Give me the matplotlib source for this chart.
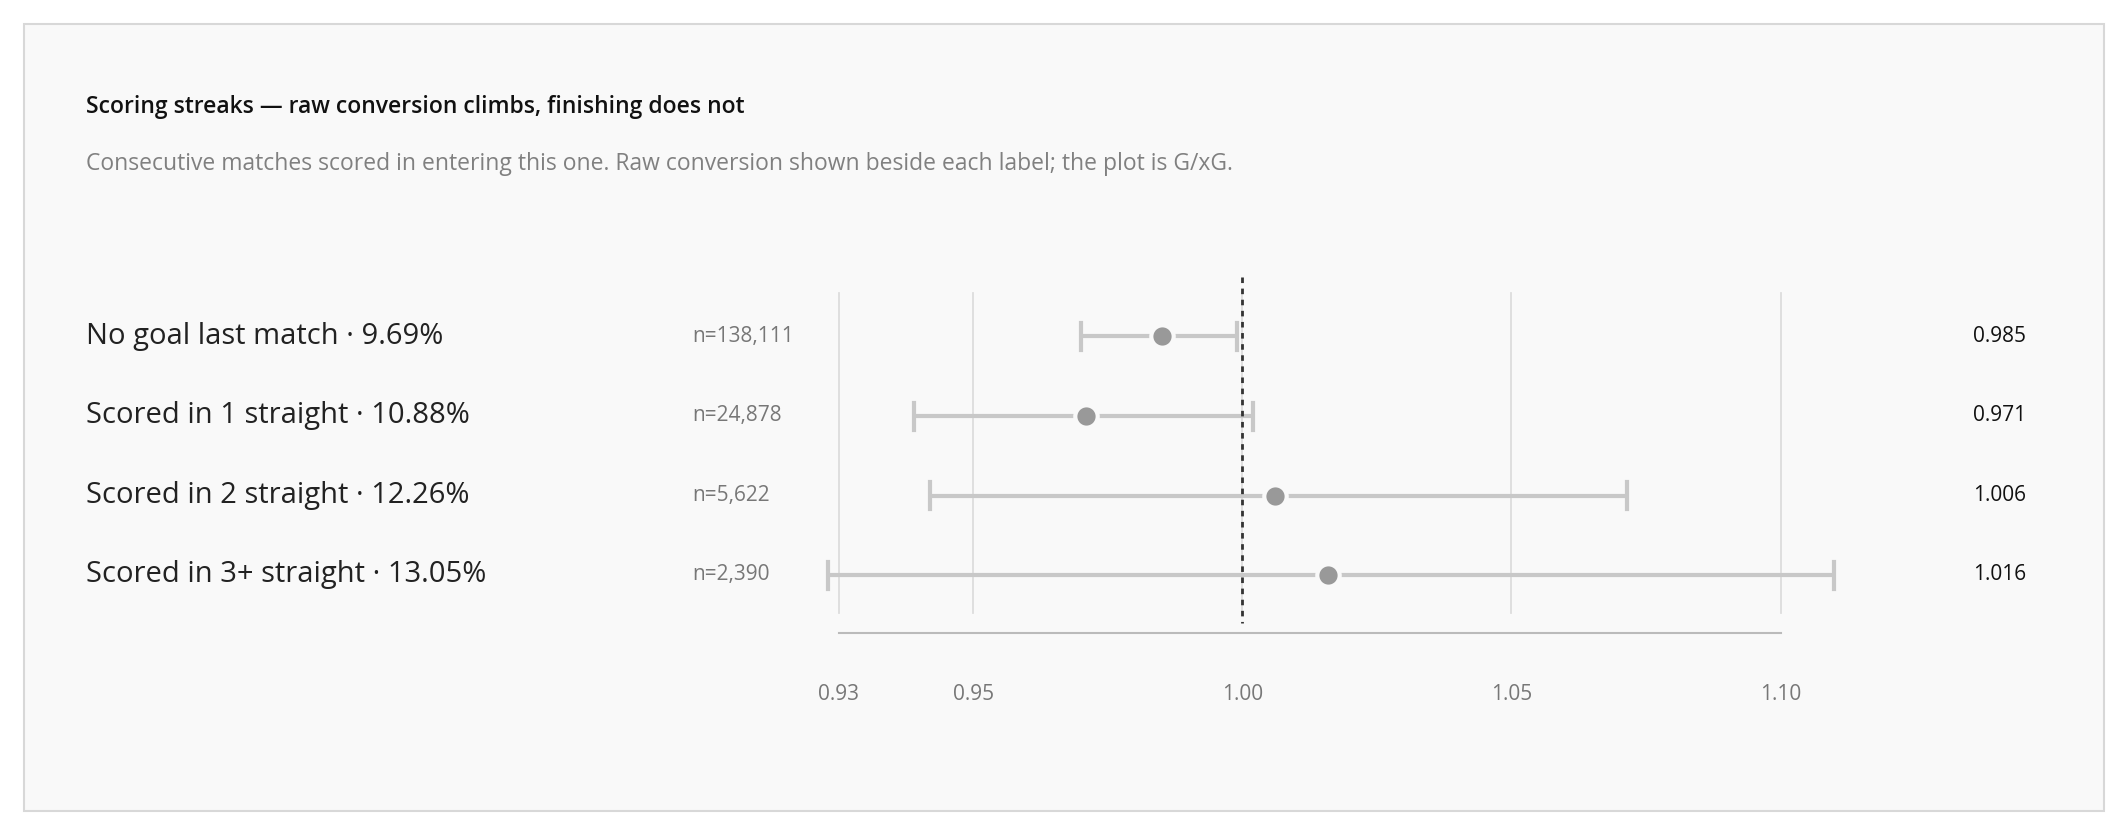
import matplotlib.pyplot as plt
from matplotlib.patches import Rectangle

labels = ["No goal last match · 9.69%", "Scored in 1 straight · 10.88%",
          "Scored in 2 straight · 12.26%", "Scored in 3+ straight · 13.05%"]
counts = ["n=138,111", "n=24,878", "n=5,622", "n=2,390"]
ratio = [0.985, 0.971, 1.006, 1.016]
lo = [0.970, 0.939, 0.942, 0.923]
hi = [0.999, 1.002, 1.0715, 1.110]
ticks = [0.925, 0.95, 1.00, 1.05, 1.10]
tick_labels = ["0.93", "0.95", "1.00", "1.05", "1.10"]

plt.rcParams['font.family'] = ['Open Sans', 'DejaVu Sans']
W, H = 1568, 618  # layout reference units
fig = plt.figure(figsize=(21.28, 8.38), dpi=100)
fig.patch.set_facecolor('white')
fig.add_artist(Rectangle((18 / W, 1 - 598 / H), 1532 / W, 580 / H, transform=fig.transFigure,
                         facecolor='#f9f9f9', edgecolor='#d8d8d8', lw=1.5, zorder=-10))

fig.text(63 / W, 1 - 79 / H, "Scoring streaks — raw conversion climbs, finishing does not",
         fontsize=16.5, weight='semibold', color='#111111', va='center')
fig.text(63 / W, 1 - 121 / H,
         "Consecutive matches scored in entering this one. Raw conversion shown beside each label; the plot is G/xG.",
         fontsize=16.5, color='#808080', va='center')

ax = fig.add_axes([0.3814, 1 - 470 / H, 0.4933, 270 / H], zorder=5)
ax.set_xlim(0.92, 1.115)
ax.set_ylim(3.78, -0.82)
ax.axis('off')
ax.patch.set_alpha(0)

for t in ticks:
    ax.plot([t, t], [-0.55, 3.47], color='#dddddd', lw=1.3, zorder=0)
ax.plot([0.925, 1.10], [3.73, 3.73], color='#bbbbbb', lw=1.5, clip_on=False)
ax.plot([1.0, 1.0], [-0.75, 3.6], color='#333333', lw=2, ls=(0, (2, 2)), zorder=3)

ys = list(range(len(labels)))
for i in ys:
    ax.plot([lo[i], hi[i]], [i, i], color='#c8c8c8', lw=3, zorder=1, solid_capstyle='butt', clip_on=False)
    for e in (lo[i], hi[i]):
        ax.plot([e, e], [i - 0.17, i + 0.17], color='#c8c8c8', lw=3, zorder=1, clip_on=False)
    ax.scatter(ratio[i], i, s=260, color='#999999', edgecolor='#f9f9f9', lw=3, zorder=4, clip_on=False)
    y_fig = 1 - (248 + i * 58.67) / H
    fig.text(63 / W, y_fig, labels[i], fontsize=21, color='#222222', va='center')
    fig.text(510 / W, y_fig, counts[i], fontsize=15, color='#777777', va='center')
    fig.text(1493 / W, y_fig, f"{ratio[i]:.3f}", fontsize=15, color='#111111', va='center', ha='right')

for t, l in zip(ticks, tick_labels):
    ax.text(t, 4.5, l, ha='center', va='center', fontsize=15, color='#777777', clip_on=False)

fig.savefig("out.png", dpi=100)
